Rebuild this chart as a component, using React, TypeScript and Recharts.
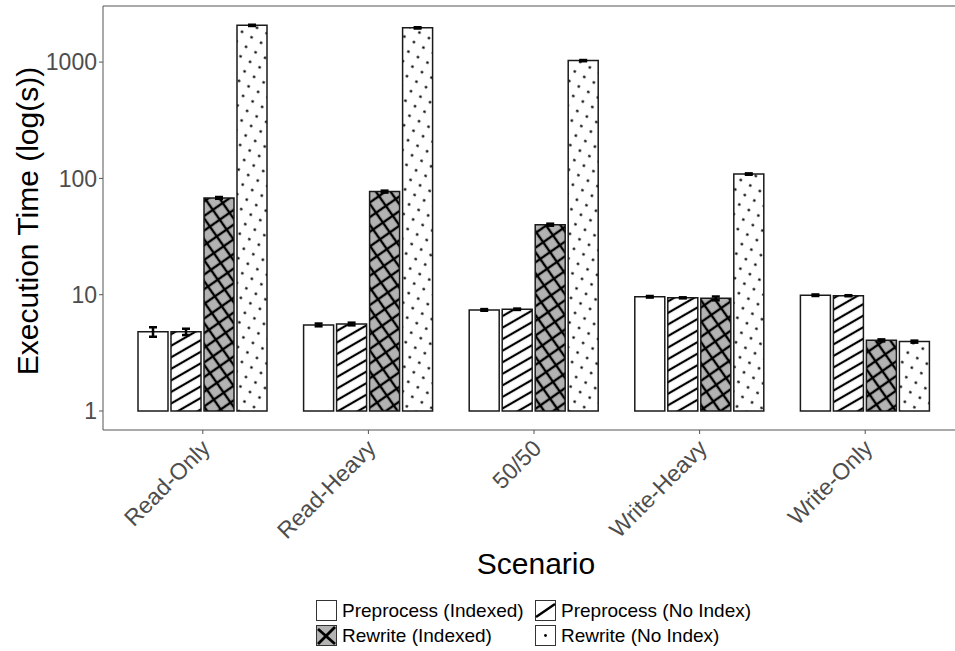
import React from "react";
import { BarChart, Bar, XAxis, YAxis, ErrorBar, ReferenceLine, Label } from "recharts";

const scenarios = ["Read-Only", "Read-Heavy", "50/50", "Write-Heavy", "Write-Only"];

// execution time (s)
const preIdx = [4.8, 5.5, 7.4, 9.6, 9.9];
const preIdxErr = [0.45, 0.15, 0.12, 0.15, 0.15];
const preNoIdx = [4.8, 5.6, 7.5, 9.4, 9.8];
const preNoIdxErr = [0.3, 0.15, 0.1, 0.1, 0.1];
const rewIdx = [68, 77, 40, 9.3, 4.05];
const rewIdxErr = [1.2, 1.5, 0.8, 0.35, 0.08];
const rewNoIdx = [2070, 1970, 1030, 109, 3.95];
const rewNoIdxErr = [25, 25, 12, 1.5, 0.08];

const yTicks = [1, 10, 100, 1000];
const yMin = 0.6866;
const yMax = 3037;
const barBase = 1;

// bars start at 1 on the log scale, so each one is a [base, value] range
const data = scenarios.map((s, i) => ({
  scenario: s,
  pi: [barBase, preIdx[i]],
  piErr: preIdxErr[i],
  pn: [barBase, preNoIdx[i]],
  pnErr: preNoIdxErr[i],
  ri: [barBase, rewIdx[i]],
  riErr: rewIdxErr[i],
  rn: [barBase, rewNoIdx[i]],
  rnErr: rewNoIdxErr[i],
}));

const FONT = "'Liberation Sans', Arial, Helvetica, sans-serif";
const AXIS = "#555555";
const OUTLINE = "#1a1a1a";
const HATCH_GREY = "#b3b3b3";

function Patterns() {
  return (
    <svg width={0} height={0} style={{ position: "absolute" }}>
      <defs>
        <pattern id="stripe" patternUnits="userSpaceOnUse" width={10} height={10} patternTransform="rotate(-30)">
          <rect width={10} height={10} fill="#fff" />
          <line x1={0} y1={5} x2={10} y2={5} stroke="#000" strokeWidth={2.2} />
        </pattern>
        <pattern id="cross" patternUnits="userSpaceOnUse" width={12} height={12} patternTransform="rotate(-35)">
          <rect width={12} height={12} fill={HATCH_GREY} />
          <line x1={0} y1={6} x2={12} y2={6} stroke="#000" strokeWidth={2.4} />
          <line x1={6} y1={0} x2={6} y2={12} stroke="#000" strokeWidth={2.4} />
        </pattern>
        <pattern id="dots" patternUnits="userSpaceOnUse" width={11} height={11} patternTransform="rotate(30)">
          <rect width={11} height={11} fill="#fff" />
          <circle cx={5.5} cy={5.5} r={1.3} fill="#000" />
        </pattern>
      </defs>
    </svg>
  );
}

function XTick({ x, y, payload }: any) {
  const tx = x - 3;
  const ty = y + 2;
  return (
    <text
      x={tx}
      y={ty}
      textAnchor="end"
      transform={`rotate(-45 ${tx} ${ty})`}
      fontSize={23}
      fill="#4d4d4d"
      dy="0.72em"
      fontFamily={FONT}
    >
      {payload.value}
    </text>
  );
}

function LegendKey({ kind }: { kind: string }) {
  return (
    <svg width={21} height={21} style={{ display: "block" }}>
      <rect x={0.5} y={0.5} width={20} height={20} fill={kind === "ri" ? HATCH_GREY : "#fff"} stroke="#333" strokeWidth={1} />
      {kind === "pn" && <line x1={1} y1={17} x2={20} y2={4} stroke="#000" strokeWidth={2.5} />}
      {kind === "ri" && (
        <>
          <line x1={2} y1={4} x2={19} y2={19} stroke="#000" strokeWidth={2.8} />
          <line x1={2} y1={19} x2={19} y2={2} stroke="#000" strokeWidth={2.8} />
        </>
      )}
      {kind === "rn" && <circle cx={10.5} cy={10.5} r={1.4} fill="#000" />}
    </svg>
  );
}

const legendItems = [
  { kind: "pi", label: "Preprocess (Indexed)", left: 316, top: 600 },
  { kind: "pn", label: "Preprocess (No Index)", left: 535, top: 600 },
  { kind: "ri", label: "Rewrite (Indexed)", left: 316, top: 625 },
  { kind: "rn", label: "Rewrite (No Index)", left: 535, top: 625 },
];

export default function App() {
  return (
    <div
      style={{
        position: "absolute",
        left: 0,
        top: 0,
        width: 955,
        height: 651,
        overflow: "hidden",
        background: "#fff",
        fontFamily: FONT,
      }}
    >
      <Patterns />
      {/* panel runs past the right edge of the image, as in the original */}
      <BarChart
        width={964}
        height={651}
        data={data}
        margin={{ top: 6, right: 0, left: 0, bottom: 0 }}
        barSize={30}
        barGap={3}
        style={{ fontFamily: FONT }}
      >
        <XAxis
          dataKey="scenario"
          height={221}
          padding={{ left: 17, right: 16 }}
          tick={<XTick />}
          tickSize={4}
          tickLine={{ stroke: AXIS }}
          axisLine={{ stroke: AXIS }}
          interval={0}
        >
          <Label
            content={() => (
              <text x={536} y={574} textAnchor="middle" fontSize={30} fill="#000" fontFamily={FONT}>
                Scenario
              </text>
            )}
          />
        </XAxis>
        <YAxis
          scale="log"
          type="number"
          domain={[yMin, yMax]}
          allowDataOverflow
          ticks={yTicks}
          width={103}
          tickSize={4}
          tick={{ fontSize: 23, fill: "#4d4d4d", fontFamily: FONT }}
          tickLine={{ stroke: AXIS }}
          axisLine={{ stroke: AXIS }}
        >
          <Label
            content={() => (
              <text
                x={38}
                y={221}
                transform="rotate(-90 38 221)"
                textAnchor="middle"
                fontSize={30}
                fill="#000"
                fontFamily={FONT}
              >
                Execution Time (log(s))
              </text>
            )}
          />
        </YAxis>
        <ReferenceLine y={yMax} stroke={AXIS} strokeWidth={1} />
        <Bar dataKey="pi" fill="#fff" stroke={OUTLINE} strokeWidth={1.5} isAnimationActive={false}>
          <ErrorBar dataKey="piErr" width={4} strokeWidth={2.5} stroke="#000" isAnimationActive={false} />
        </Bar>
        <Bar dataKey="pn" fill="url(#stripe)" stroke={OUTLINE} strokeWidth={1.5} isAnimationActive={false}>
          <ErrorBar dataKey="pnErr" width={4} strokeWidth={2.5} stroke="#000" isAnimationActive={false} />
        </Bar>
        <Bar dataKey="ri" fill="url(#cross)" stroke={OUTLINE} strokeWidth={1.5} isAnimationActive={false}>
          <ErrorBar dataKey="riErr" width={4} strokeWidth={2.5} stroke="#000" isAnimationActive={false} />
        </Bar>
        <Bar dataKey="rn" fill="url(#dots)" stroke={OUTLINE} strokeWidth={1.5} isAnimationActive={false}>
          <ErrorBar dataKey="rnErr" width={4} strokeWidth={2.5} stroke="#000" isAnimationActive={false} />
        </Bar>
      </BarChart>
      {legendItems.map((it) => (
        <div
          key={it.label}
          style={{ position: "absolute", left: it.left, top: it.top, display: "flex", alignItems: "center", height: 21 }}
        >
          <LegendKey kind={it.kind} />
          <span style={{ marginLeft: 5, fontSize: 19, color: "#000", whiteSpace: "nowrap" }}>{it.label}</span>
        </div>
      ))}
    </div>
  );
}
